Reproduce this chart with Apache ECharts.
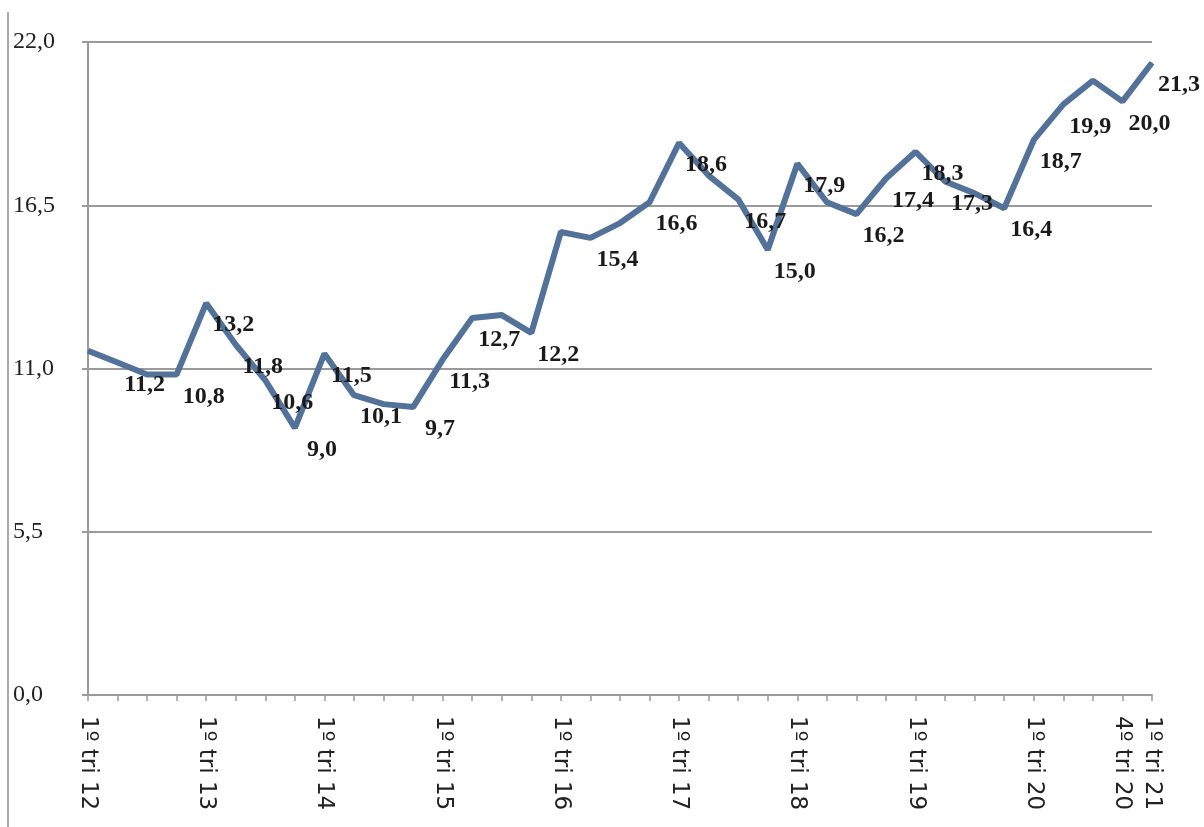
<!DOCTYPE html>
<html>
<head>
<meta charset="utf-8">
<script src="https://cdn.jsdelivr.net/npm/echarts@6/dist/echarts.min.js"></script>
<style>
  html, body { margin: 0; padding: 0; background: #ffffff; }
  #chart { width: 1204px; height: 827px; }
</style>
</head>
<body>
<div id="chart"></div>
<script>
// Categories (quarters)
const categories = [
  "1º tri 12","2º tri 12","3º tri 12","4º tri 12",
  "1º tri 13","2º tri 13","3º tri 13","4º tri 13",
  "1º tri 14","2º tri 14","3º tri 14","4º tri 14",
  "1º tri 15","2º tri 15","3º tri 15","4º tri 15",
  "1º tri 16","2º tri 16","3º tri 16","4º tri 16",
  "1º tri 17","2º tri 17","3º tri 17","4º tri 17",
  "1º tri 18","2º tri 18","3º tri 18","4º tri 18",
  "1º tri 19","2º tri 19","3º tri 19","4º tri 19",
  "1º tri 20","2º tri 20","3º tri 20","4º tri 20",
  "1º tri 21"
];
// Series values
const values = [
  11.6, 11.2, 10.8, 10.8,
  13.2, 11.8, 10.6, 9.0,
  11.5, 10.1, 9.8, 9.7,
  11.3, 12.7, 12.8, 12.2,
  15.6, 15.4, 15.9, 16.6,
  18.6, 17.5, 16.7, 15.0,
  17.9, 16.6, 16.2, 17.4,
  18.3, 17.3, 16.9, 16.4,
  18.7, 19.9, 20.7, 20.0,
  21.3
];
// Points without a data label in the original
const unlabeledIdx = [0, 2, 10, 14, 16, 18, 21, 25, 30, 34];
// Category indices that carry an x tick label
const shownLabelIdx = [0, 4, 8, 12, 16, 20, 24, 28, 32, 35, 36];
// Y axis
const yMin = 0, yMax = 22, yStep = 5.5;

const fmt = v => Number(v).toFixed(1).replace('.', ',');

const seriesData = values.map((v, i) => ({
  value: v,
  label: { show: unlabeledIdx.indexOf(i) === -1 }
}));

const chart = echarts.init(document.getElementById('chart'), null, { renderer: 'canvas' });
chart.setOption({
  animation: false,
  backgroundColor: '#ffffff',
  grid: { left: 88, right: 52, top: 42, bottom: 132, containLabel: false },
  xAxis: {
    type: 'category',
    data: categories,
    boundaryGap: false,
    axisLine: { show: true, lineStyle: { color: '#9a9a9a', width: 2 } },
    axisTick: { show: true, interval: 0, length: 6, lineStyle: { color: '#9a9a9a', width: 1.5 } },
    axisLabel: {
      interval: (idx) => shownLabelIdx.indexOf(idx) !== -1,
      rotate: -90,
      margin: 21,
      color: '#222222',
      fontFamily: 'DejaVu Sans',
      fontSize: 23
    },
    splitLine: { show: false }
  },
  yAxis: {
    type: 'value',
    min: yMin, max: yMax, interval: yStep,
    axisLine: { show: true, lineStyle: { color: '#9a9a9a', width: 2 } },
    axisTick: { show: true, length: 6, lineStyle: { color: '#9a9a9a', width: 2 } },
    axisLabel: {
      formatter: fmt,
      align: 'left',
      margin: 75,
      color: '#222222',
      fontFamily: 'Liberation Serif',
      fontSize: 24
    },
    splitLine: { show: true, lineStyle: { color: '#9a9a9a', width: 2 } }
  },
  graphic: [
    { type: 'line', shape: { x1: 8, y1: 12, x2: 8, y2: 827 }, style: { stroke: '#aaaaaa', lineWidth: 2 }, silent: true }
  ],
  series: [{
    type: 'line',
    data: seriesData,
    showSymbol: true,
    showAllSymbol: true,
    symbol: 'circle',
    symbolSize: 1,
    itemStyle: { color: '#52729a' },
    lineStyle: { color: '#52729a', width: 6 },
    label: {
      position: 'inside',
      offset: [27, 22],
      formatter: p => fmt(p.value),
      color: '#1a1a1a',
      fontFamily: 'Liberation Serif',
      fontWeight: 'bold',
      fontSize: 24
    },
    z: 3
  }]
});
</script>
</body>
</html>
